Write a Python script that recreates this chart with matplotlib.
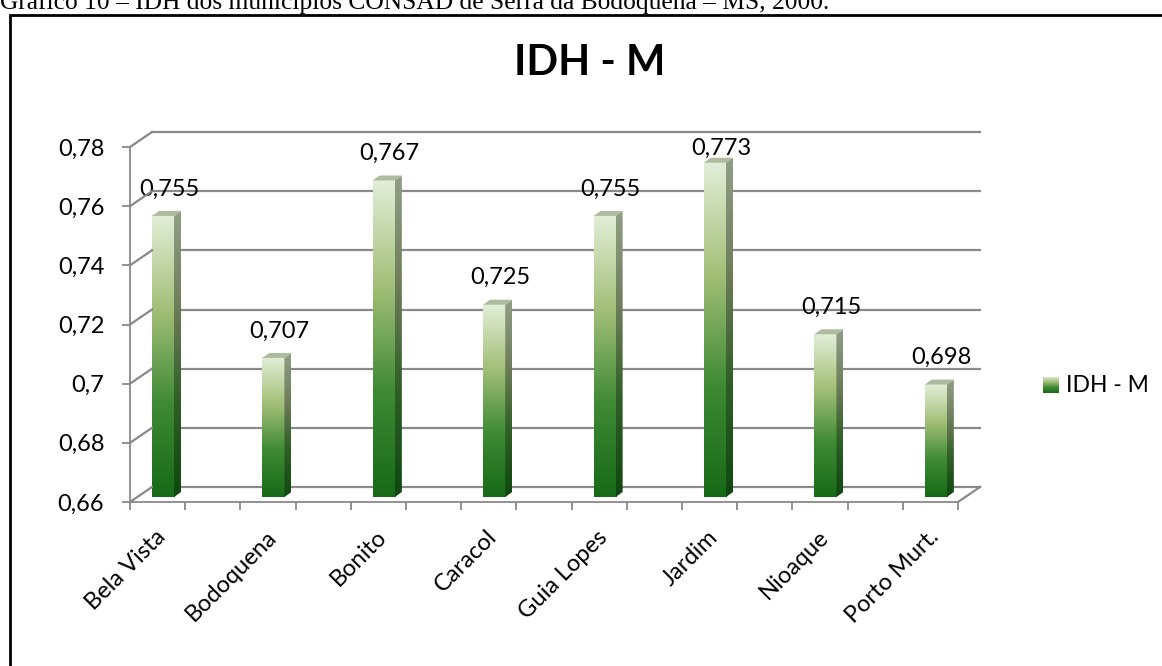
import numpy as np
import matplotlib
matplotlib.use('Agg')
import matplotlib.pyplot as plt
from matplotlib.colors import LinearSegmentedColormap
from matplotlib.patches import Polygon, Rectangle
from matplotlib.lines import Line2D
from matplotlib.transforms import IdentityTransform, ScaledTranslation

# ------------------------------------------------------------
# dados: IDH-M dos municípios CONSAD Serra da Bodoquena (2000)
# ------------------------------------------------------------
municipios = ['Bela Vista', 'Bodoquena', 'Bonito', 'Caracol',
              'Guia Lopes', 'Jardim', 'Nioaque', 'Porto Murt.']
idh = [0.755, 0.707, 0.767, 0.725, 0.755, 0.773, 0.715, 0.698]
y_ticks = [0.66, 0.68, 0.70, 0.72, 0.74, 0.76, 0.78]
y_labels = ['0,66', '0,68', '0,7', '0,72', '0,74', '0,76', '0,78']
serie = 'IDH - M'
legenda_fig = 'Gráfico 10 – IDH dos municípios CONSAD de Serra da Bodoquena – MS, 2000.'

W, H, DPI = 1162, 666, 100
FONT = ['Lato', 'DejaVu Sans']
GRID = '#898989'

front_cmap = LinearSegmentedColormap.from_list(
    'front', ['#176a17', '#3f8a35', '#a3bf78', '#e2eed8'])
side_cmap = LinearSegmentedColormap.from_list(
    'side', ['#0f4710', '#2f5f26', '#6e7d5a', '#919f86'])
TOP_COLOR = '#aebb9f'

plt.rcParams['font.family'] = FONT

fig = plt.figure(figsize=(W / DPI, H / DPI), dpi=DPI)


def box(left, bottom, width, height):
    # pixels (origem no canto superior esquerdo) -> fração da figura
    return [left / W, 1 - bottom / H, width / W, height / H]


xl, xr = -0.2355, 7.2645
ymin, ymax = 0.66, 0.78

# plano de fundo (grade), plano das barras, plano frontal (eixos)
ax_back = fig.add_axes(box(152, 487, 828, 355))
ax = fig.add_axes(box(137, 497, 828, 355))
ax_front = fig.add_axes(box(130, 502, 828, 355))

for a in (ax_back, ax, ax_front):
    a.set_xlim(xl, xr)
    a.set_ylim(ymin, ymax)
    a.set_facecolor('none')
    for s in a.spines.values():
        s.set_visible(False)

# grade no fundo
ax_back.set_xticks([])
ax_back.set_yticks([])
for yv in y_ticks:
    ax_back.axhline(yv, color=GRID, lw=1.6, clip_on=False)

# eixos frontais
for s in ('left', 'bottom'):
    ax_front.spines[s].set_visible(True)
    ax_front.spines[s].set_color(GRID)
    ax_front.spines[s].set_linewidth(1.3)
ax_front.set_xticks(np.linspace(xl, xr, 16))
ax_front.set_xticklabels([])
ax_front.set_yticks(y_ticks)
ax_front.set_yticklabels(y_labels, fontsize=17)
ax_front.tick_params(axis='both', colors=GRID, length=5.5, width=1.3)
ax_front.tick_params(axis='y', labelcolor='black', pad=13)

# diagonais das paredes laterais e do piso
for yv in y_ticks:
    p0 = ax_front.transData.transform((xl, yv))
    p1 = ax_back.transData.transform((xl, yv))
    fig.add_artist(Line2D([p0[0], p1[0]], [p0[1], p1[1]], color=GRID, lw=1.6,
                          transform=IdentityTransform()))
p0 = ax_front.transData.transform((xr, ymin))
p1 = ax_back.transData.transform((xr, ymin))
fig.add_artist(Line2D([p0[0], p1[0]], [p0[1], p1[1]], color=GRID, lw=1.6,
                      transform=IdentityTransform()))

# barras
x = np.arange(len(municipios))
bars = ax.bar(x, np.array(idh) - ymin, bottom=ymin, width=0.2,
              facecolor='none', edgecolor='none')

inv = ax.transData.inverted()
o = inv.transform((0, 0))
ddx, ddy = inv.transform((7, 5)) - o
lab_dy = (inv.transform((0, 27)) - o)[1]
lab_dx = (inv.transform((6, 0)) - o)[0]
grad = np.linspace(0, 1, 256).reshape(-1, 1)

for b, v in zip(bars, idh):
    x0, x1 = b.get_x(), b.get_x() + b.get_width()
    ax.imshow(grad, cmap=front_cmap, origin='lower', aspect='auto',
              extent=(x0, x1, ymin, v), zorder=3)
    side = Polygon([(x1, ymin), (x1, v), (x1 + ddx, v + ddy), (x1 + ddx, ymin + ddy)],
                   closed=True, facecolor='none', edgecolor='none')
    ax.add_patch(side)
    im = ax.imshow(grad, cmap=side_cmap, origin='lower', aspect='auto',
                   extent=(x1, x1 + ddx, ymin, v + ddy), zorder=3)
    im.set_clip_path(side)
    ax.add_patch(Polygon([(x0, v), (x1, v), (x1 + ddx, v + ddy), (x0 + ddx, v + ddy)],
                         closed=True, facecolor=TOP_COLOR, edgecolor='none',
                         zorder=4, clip_on=False))
    ax.text(b.get_x() + b.get_width() / 2 + lab_dx, min(v + lab_dy, 0.778),
            f'{v:.3f}'.replace('.', ','), ha='center', va='center',
            fontsize=17, clip_on=False, zorder=5)

ax.set_xlim(xl, xr)
ax.set_ylim(ymin, ymax)
ax.set_yticks([])
ax.set_xticks(x)
ax.set_xticklabels(municipios, rotation=45, ha='right', va='top',
                   rotation_mode='anchor', fontsize=17)
ax.tick_params(axis='x', length=0, pad=21)
shift = ScaledTranslation(-8 / DPI, 0, fig.dpi_scale_trans)
for lbl in ax.get_xticklabels():
    lbl.set_transform(lbl.get_transform() + shift)

# título
fig.text(590 / W, 1 - 63 / H, serie, ha='center', va='center',
         fontsize=30, fontweight='bold')

# legenda (quadrado com gradiente + texto)
ax_leg = fig.add_axes(box(1043, 393, 16, 16))
ax_leg.imshow(grad, cmap=front_cmap, origin='lower', aspect='auto')
ax_leg.set_axis_off()
fig.text(1066 / W, 1 - 385 / H, serie, ha='left', va='center', fontsize=16.5)

# moldura do gráfico e legenda da figura (cortada no topo)
fig.add_artist(Rectangle((9.5, -20), W + 40, H - 14.5 + 20, fill=False,
                         edgecolor='black', lw=2, transform=IdentityTransform()))
fig.text(0, 1 - 9 / H, legenda_fig, ha='left', va='baseline',
         fontsize=18.4, family=['Liberation Serif', 'DejaVu Serif'])

fig.savefig('out.png', dpi=DPI)
